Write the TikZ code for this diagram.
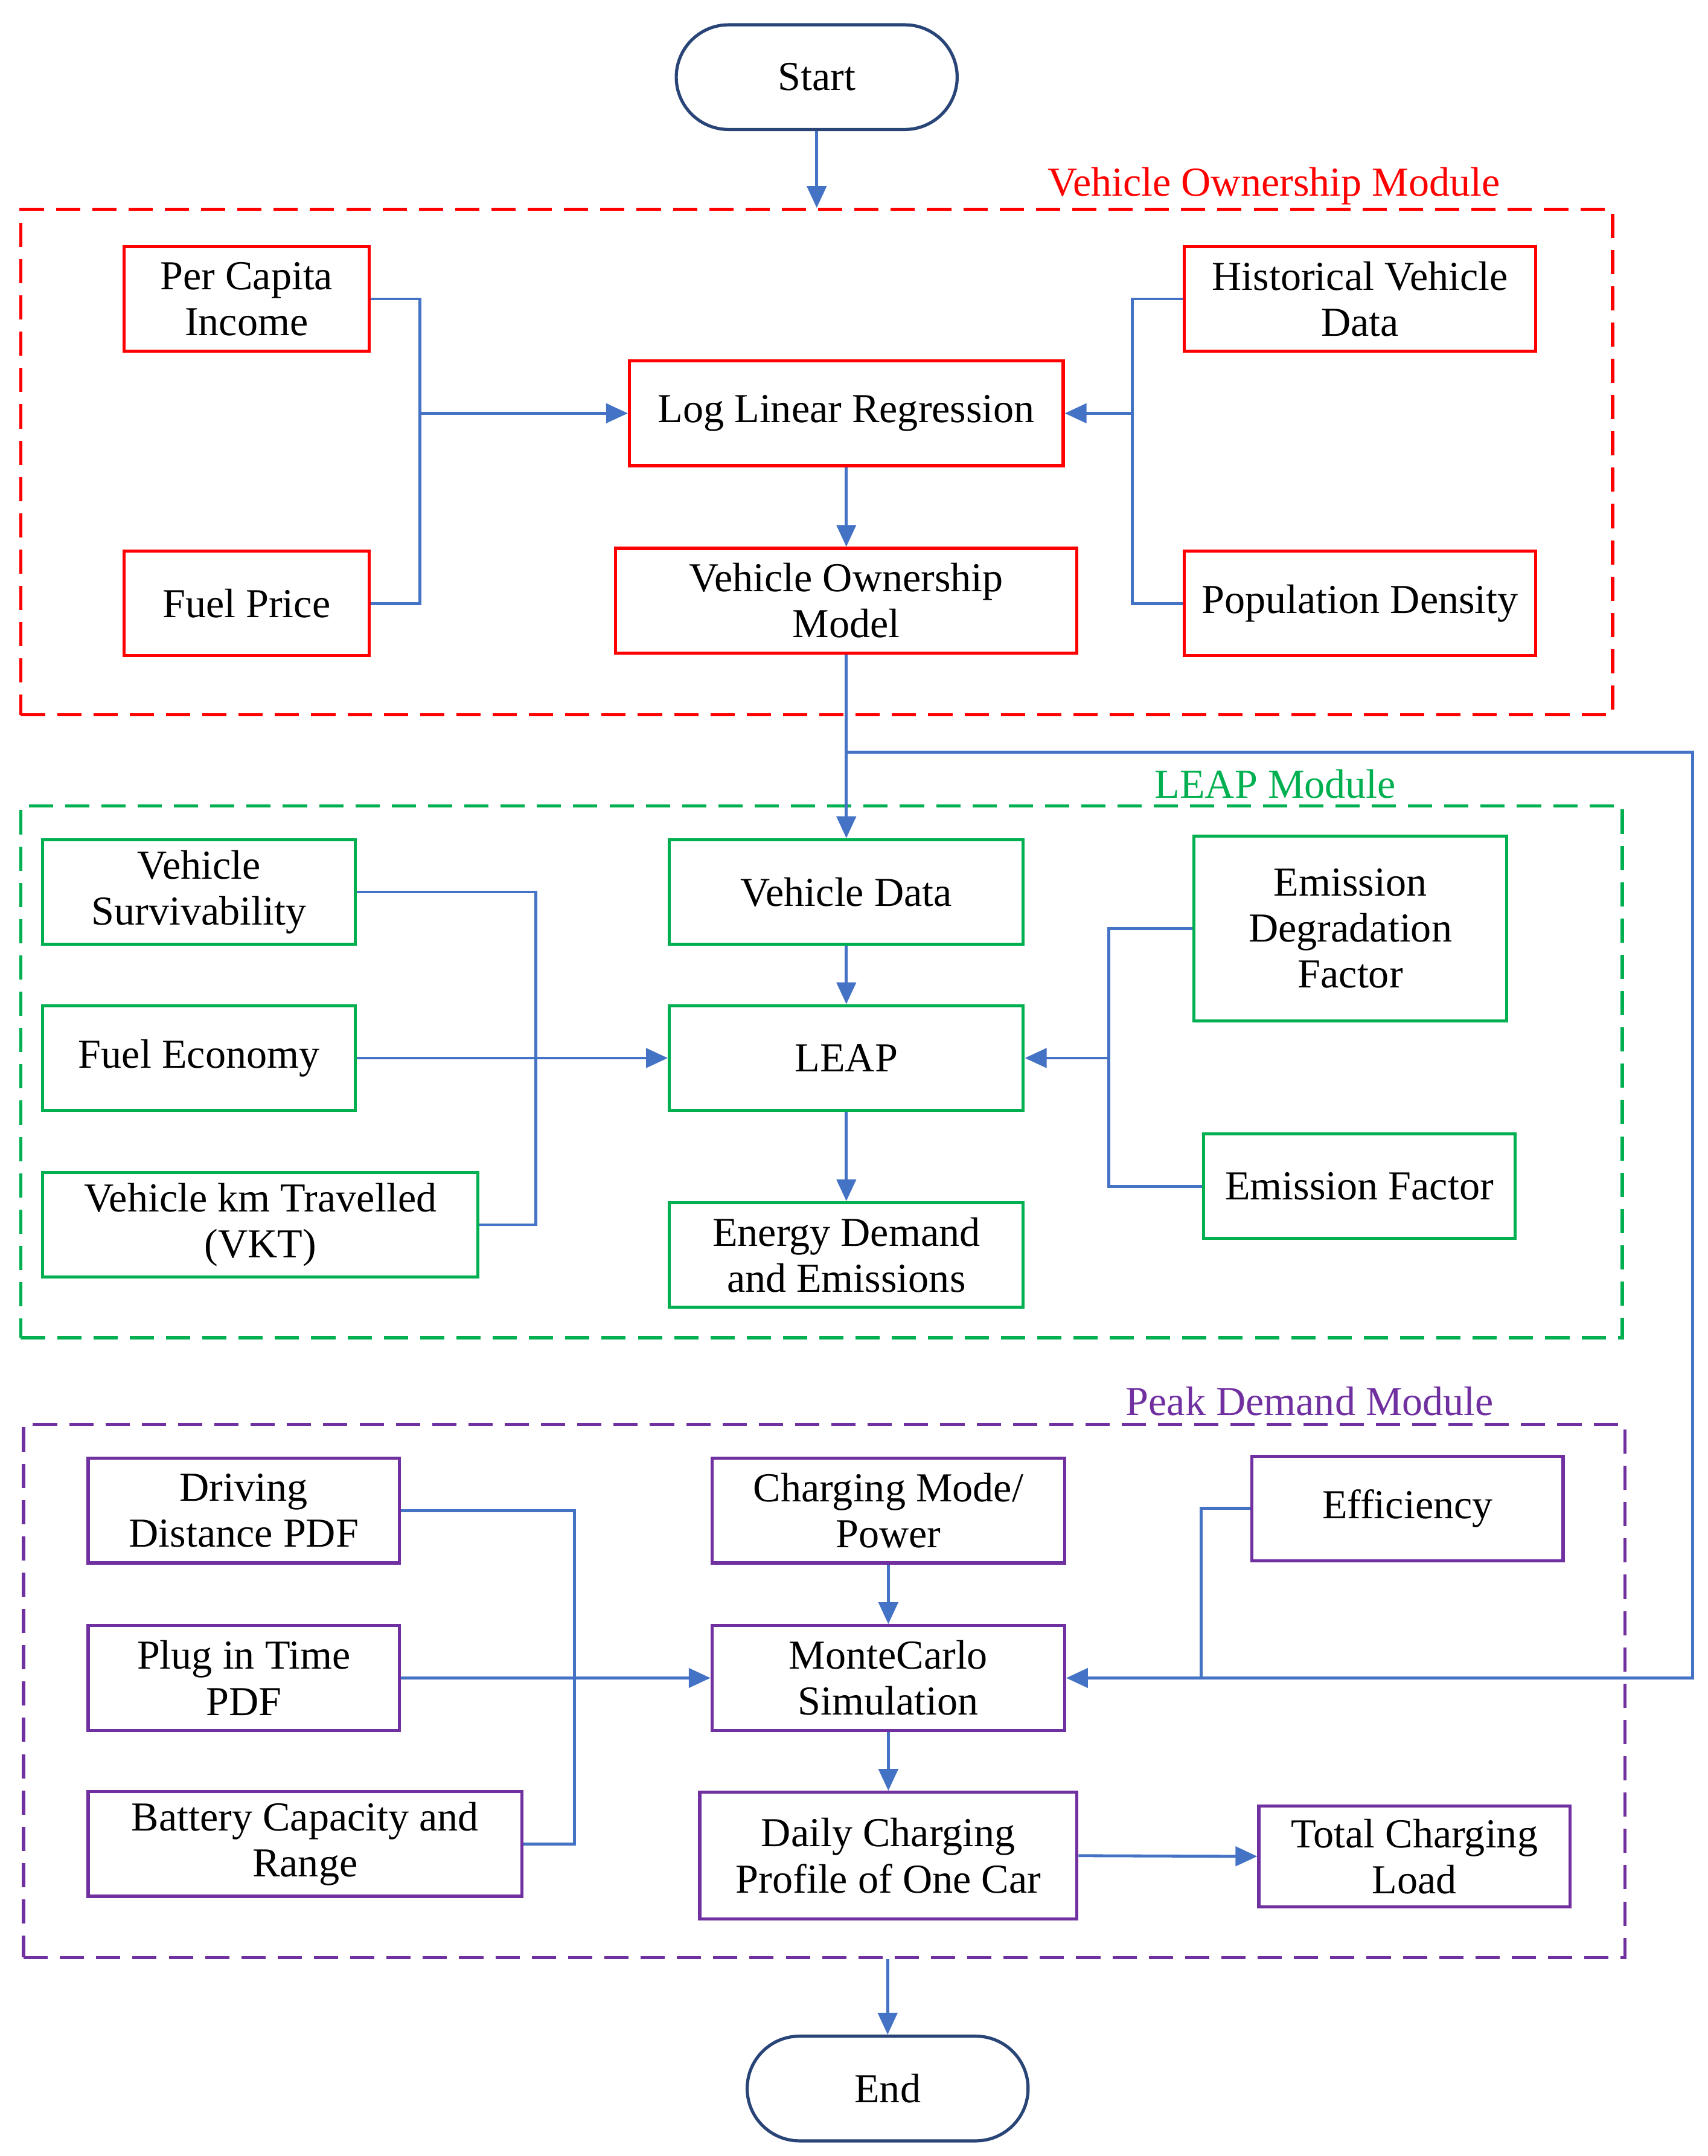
\documentclass[tikz,border=0pt]{standalone}
\usepackage{fontspec}
\setmainfont{Liberation Serif}
\usetikzlibrary{arrows.meta,shapes.misc}
\definecolor{vred}{RGB}{255,0,0}
\definecolor{vgreen}{RGB}{0,176,80}
\definecolor{vpurple}{RGB}{112,48,160}
\definecolor{vblue}{RGB}{68,114,196}
\begin{document}
\begin{tikzpicture}[x=0.02cm,y=-0.02cm,
  every node/.style={font=\fontsize{17}{19}\selectfont,align=center,inner sep=0pt},
  bx/.style={draw,line width=1.3pt,minimum height=1.52cm},
  rb/.style={bx,vred},gb/.style={bx,vgreen},pb/.style={bx,vpurple},
  term/.style={draw=vblue!60!black,line width=1.3pt,rounded rectangle,minimum width=4.08cm,minimum height=1.52cm},
  con/.style={vblue,line width=1.2pt},
  arr/.style={con,-{Triangle[length=9pt,width=8pt]}},
  mod/.style={dashed,line width=1.3pt,dash pattern=on 10pt off 5pt}]
\useasboundingbox (0,0) rectangle (1240,1565);
% Start
\node[term] (start) at (593,56) {Start};
% Red module
\node[mod,vred,draw,minimum width=23.12cm,minimum height=7.34cm] (redm) at (593,335.5) {};
\node[text=vred] (redl) at (925,135) {Vehicle Ownership Module};
\node[rb,minimum width=3.56cm,text=black] (pci) at (179,217) {Per Capita\\Income};
\node[rb,minimum width=5.1cm,text=black] (hvd) at (987.5,217) {Historical Vehicle\\Data};
\node[rb,minimum width=6.3cm,text=black] (llr) at (614.5,300) {Log Linear Regression};
\node[rb,minimum width=3.56cm,text=black] (fp) at (179,438) {Fuel Price};
\node[rb,minimum width=6.7cm,text=black] (vom) at (614.5,436) {Vehicle Ownership\\Model};
\node[rb,minimum width=5.1cm,text=black] (pd) at (987.5,438) {Population Density};
\draw[arr] (start.south) -- (start.south |- redm.north);
\draw[con] (pci.east) -- (305,217) -- (305,438) -- (fp.east);
\coordinate (jl) at (305,300);
\draw[arr] (jl) -- (llr.west);
\draw[con] (hvd.west) -- (822,217) -- (822,438) -- (pd.west);
\coordinate (jr) at (822,300);
\draw[arr] (jr) -- (llr.east);
\draw[arr] (llr.south) -- (vom.north);
% Green module
\node[mod,vgreen,draw,minimum width=23.26cm,minimum height=7.72cm] (grm) at (596.5,778) {};
\node[text=vgreen] (grl) at (926,569) {LEAP Module};
\node[gb,minimum width=4.54cm,text=black] (vs) at (144.5,647.5) {Vehicle\\Survivability};
\node[gb,minimum width=5.14cm,text=black] (vd) at (614.5,647.5) {Vehicle Data};
\node[gb,minimum width=4.54cm,minimum height=2.68cm,text=black] (edf) at (980.5,674) {Emission\\Degradation\\Factor};
\node[gb,minimum width=4.54cm,text=black] (fe) at (144.5,768) {Fuel Economy};
\node[gb,minimum width=5.14cm,text=black] (leap) at (614.5,768) {LEAP};
\node[gb,minimum width=4.52cm,text=black] (ef) at (987,861) {Emission Factor};
\node[gb,minimum width=6.32cm,text=black] (vkt) at (189,889) {Vehicle km Travelled\\(VKT)};
\node[gb,minimum width=5.14cm,text=black] (ede) at (614.5,911) {Energy Demand\\and Emissions};
\draw[arr] (vom.south) -- (vd.north);
\draw[con] (vs.east) -- (389,647.5) -- (389,889) -- (vkt.east);
\draw[arr] (fe.east) -- (leap.west);
\draw[con] (edf.west) -- (805,674) -- (805,861) -- (ef.west);
\coordinate (jg) at (805,768);
\draw[arr] (jg) -- (leap.east);
\draw[arr] (vd.south) -- (leap.north);
\draw[arr] (leap.south) -- (ede.north);
% Purple module
\node[mod,vpurple,draw,minimum width=23.26cm,minimum height=7.74cm] (pum) at (598.5,1227.5) {};
\node[text=vpurple] (pul) at (951,1017) {Peak Demand Module};
\node[pb,minimum width=4.52cm,text=black] (dd) at (177,1096.5) {Driving\\Distance PDF};
\node[pb,minimum width=5.12cm,text=black] (cm) at (645,1096.5) {Charging Mode/\\Power};
\node[pb,minimum width=4.52cm,text=black] (eff) at (1022,1095) {Efficiency};
\node[pb,minimum width=4.52cm,text=black] (pit) at (177,1218) {Plug in Time\\PDF};
\node[pb,minimum width=5.12cm,text=black] (mc) at (645,1218) {MonteCarlo\\Simulation};
\node[pb,minimum width=6.3cm,text=black] (bcr) at (221.5,1338.5) {Battery Capacity and\\Range};
\node[pb,minimum width=5.48cm,minimum height=1.84cm,text=black] (dcp) at (645,1347) {Daily Charging\\Profile of One Car};
\node[pb,minimum width=4.52cm,minimum height=1.46cm,text=black] (tcl) at (1027,1347.5) {Total Charging\\Load};
\node[term] (end) at (644.5,1516) {End};
\coordinate (br1) at (614.5,546);
\coordinate (br2) at (1229,546);
\coordinate (br3) at (1229,1218);
\draw[arr] (br1) -- (br2) -- (br3) -- (mc.east);
\draw[con] (dd.east) -- (417,1096.5) -- (417,1338.5) -- (bcr.east);
\draw[arr] (pit.east) -- (mc.west);
\coordinate (je) at (872,1218);
\draw[con] (eff.west) -- (872,1095) -- (je);
\draw[arr] (cm.south) -- (mc.north);
\draw[arr] (mc.south) -- (dcp.north);
\draw[arr] (dcp.east) -- (tcl.west);
\draw[arr] (end.north |- pum.south) -- (end.north);
\end{tikzpicture}
\end{document}
